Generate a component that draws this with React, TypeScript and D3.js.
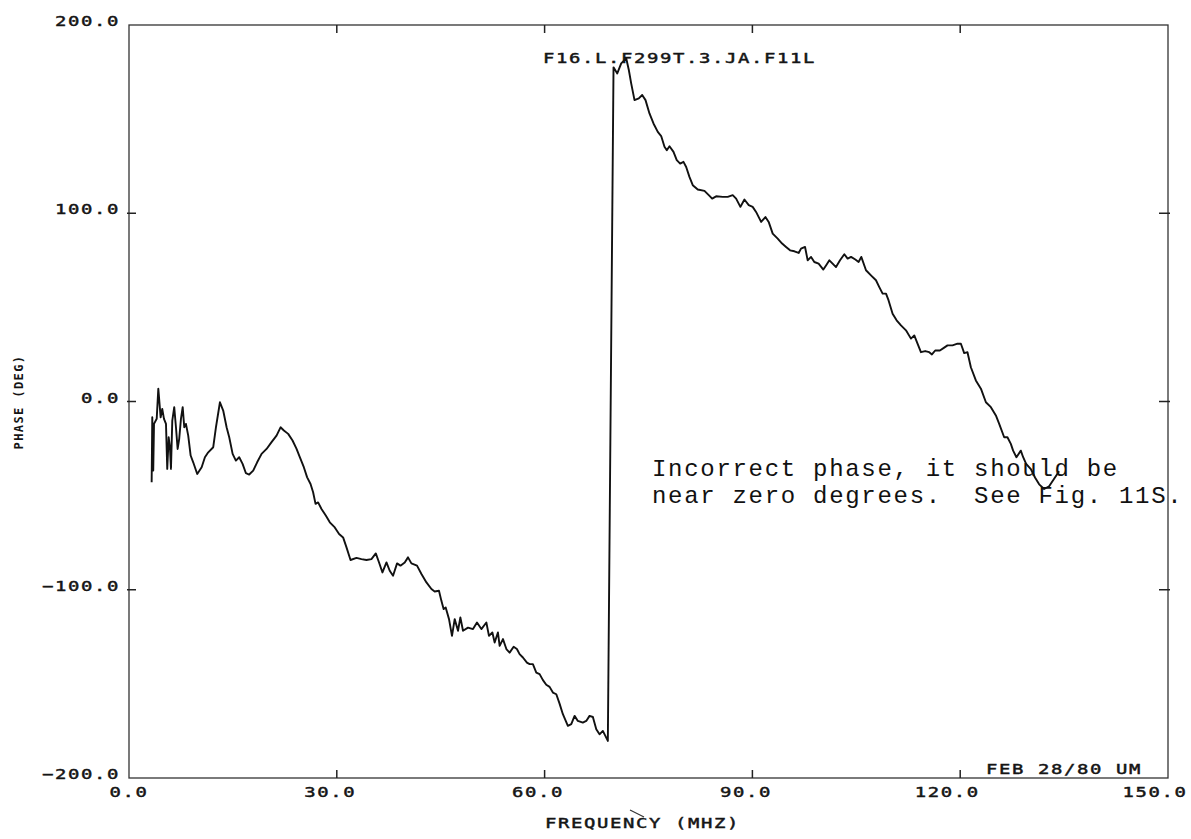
import * as d3 from "d3";

const freqMHz = [
  3.27, 3.36, 3.5, 3.61, 4.0, 4.23, 4.57, 4.8, 5.05, 5.34, 5.52, 5.73, 5.91, 6.06, 6.25, 6.53, 6.78, 7.02, 7.25, 7.5,
  7.75, 7.98, 8.22, 8.55, 8.9, 9.27, 9.85, 10.49, 10.96, 11.44, 12.16, 12.55, 13.13, 13.6, 14.09, 14.47, 14.96, 15.43,
  15.91, 16.4, 16.88, 17.35, 17.93, 18.5, 19.14, 19.86, 20.58, 21.3, 21.88, 22.36, 22.98, 23.61, 24.19, 24.66, 25.24,
  25.72, 26.21, 26.58, 26.93, 27.3, 27.79, 28.41, 28.99, 29.71, 30.33, 30.91, 31.4, 31.98, 32.84, 33.56, 34.28, 35.0,
  35.63, 36.1, 36.59, 37.17, 37.64, 38.12, 38.7, 39.19, 39.81, 40.28, 40.77, 41.58, 42.22, 42.94, 43.66, 44.13, 44.75,
  45.1, 45.43, 45.72, 46.2, 46.63, 47.02, 47.5, 47.84, 48.22, 48.94, 49.66, 50.24, 50.87, 51.59, 51.97, 52.46, 52.79,
  53.26, 53.51, 53.99, 54.48, 54.95, 55.53, 56.0, 56.39, 56.87, 57.45, 57.84, 58.31, 58.8, 59.28, 59.76, 60.24, 60.72,
  61.2, 61.69, 62.16, 62.64, 63.36, 63.85, 64.33, 64.8, 65.52, 66.01, 66.49, 66.97, 67.46, 67.93, 68.41, 69.13,
  69.95, 70.49, 71.06, 71.78, 72.16, 72.5, 72.98, 73.6, 74.09, 74.57, 75.14, 75.72, 76.34, 76.83, 77.31, 77.64, 78.03,
  78.61, 79.08, 79.57, 80.05, 80.44, 80.91, 81.39, 82.11, 83.08, 83.7, 84.19, 84.76, 85.72, 86.44, 87.16, 87.65, 88.27,
  88.85, 89.47, 90.04, 90.53, 91.26, 91.88, 92.35, 92.93, 93.65, 94.29, 94.86, 95.44, 96.06, 96.68, 97.02, 97.6, 97.98,
  98.47, 98.94, 99.56, 100.24, 100.63, 101.11, 101.58, 102.07, 102.65, 103.27, 103.75, 104.24, 104.86, 105.33, 105.72,
  106.4, 107.12, 107.84, 108.32, 108.8, 109.29, 109.66, 110.24, 110.82, 111.45, 112.17, 112.89, 113.37, 113.84, 114.33,
  114.95, 115.53, 115.92, 116.39, 117.07, 117.69, 118.17, 118.89, 119.61, 120.1, 120.58, 121.05, 121.54, 122.26, 122.99,
  123.71, 124.43, 125.15, 125.63, 126.35, 126.82, 127.31, 127.64, 128.12, 128.75, 129.09, 129.52, 130.23, 130.82,
  131.4, 132.12, 132.84, 133.56, 134.28,
];
const phaseDeg = [
  -42.9, -8.4, -36.7, -11.9, -9.2, 6.8, -8.4, -3.9, -9.2, -11.9, -35.8, -19.0, -24.3, -35.8, -10.1, -3.0, -13.7, -25.2,
  -19.8, -9.2, -3.0, -13.7, -11.9, -18.1, -28.7, -32.3, -38.5, -34.9, -29.6, -27.0, -24.3, -13.7, -0.4, -4.8, -13.7,
  -19.0, -27.8, -31.4, -29.6, -33.1, -38.1, -38.8, -36.7, -32.3, -27.8, -25.2, -21.6, -18.1, -13.7, -15.4, -17.2, -20.7,
  -25.2, -29.6, -34.9, -40.3, -43.8, -48.2, -54.4, -53.6, -57.1, -60.6, -64.2, -66.9, -70.4, -72.2, -77.5, -84.2, -83.1,
  -83.7, -84.2, -83.7, -80.7, -85.5, -90.8, -85.5, -89.9, -92.6, -86.0, -87.2, -85.5, -82.8, -86.0, -87.2, -91.6, -96.1,
  -99.6, -100.9, -100.5, -105.9, -110.3, -109.4, -115.6, -124.5, -115.6, -121.8, -114.7, -121.8, -120.1, -120.9, -117.4,
  -120.9, -117.4, -124.5, -122.7, -128.0, -122.7, -129.8, -126.2, -131.5, -133.4, -130.3, -131.5, -134.2, -136.0,
  -138.7, -139.5, -139.5, -144.0, -144.8, -148.0, -150.5, -151.6, -154.6, -155.5, -160.5, -166.1, -172.3, -171.4,
  -167.0, -169.7, -170.6, -169.7, -167.0, -167.6, -174.1, -176.8, -175.0, -180.3,
  177.5, 174.3, 179.6, 182.3, 176.1, 169.0, 160.1, 161.0, 162.8, 160.1, 153.0, 147.7, 143.2, 141.0, 135.3, 133.5, 135.6,
  132.6, 128.2, 126.4, 127.3, 124.6, 119.3, 114.9, 112.6, 111.9, 109.6, 107.8, 109.0, 108.7, 108.7, 109.6, 107.8, 103.4,
  107.3, 104.3, 103.4, 100.7, 95.4, 98.0, 95.4, 89.2, 86.5, 83.9, 82.1, 80.3, 79.8, 78.9, 81.2, 82.1, 75.0, 76.8, 74.1,
  73.2, 70.1, 72.3, 75.0, 73.2, 71.4, 75.0, 78.2, 75.9, 76.8, 75.4, 74.1, 76.8, 69.7, 67.0, 64.4, 60.8, 57.3, 57.3, 53.7,
  46.6, 43.1, 40.4, 37.8, 33.4, 35.1, 30.7, 26.2, 26.8, 26.2, 25.0, 27.1, 27.1, 28.6, 29.8, 29.8, 30.7, 30.7, 25.7, 26.2,
  18.2, 11.2, 6.8, -0.4, -3.0, -7.4, -11.9, -19.0, -19.0, -22.5, -26.1, -29.6, -26.1, -29.6, -33.1, -36.1, -40.5, -44.0,
  -46.5, -45.0, -41.0, -37.0,
];

const xTicks = [0, 30, 60, 90, 120, 150];
const yTicks = [-200, -100, 0, 100, 200];
const plotTitle = "F16.L.F299T.3.JA.F11L";
const dateStamp = "FEB 28/80 UM";
const xTitle = "FREQUENCY (MHZ)";
const yTitle = "PHASE (DEG)";
const noteLines = ["Incorrect phase, it should be", "near zero degrees.  See Fig. 11S."];

const W = 1191;
const H = 839;
const left = 129, right = 1168, top = 25, bottom = 778;

// plotter lettering: wide glyphs, fixed 13px pitch
const PITCH = 13;
const PlotterText = ({ x, y, text }: { x: number; y: number; text: string }) => (
  <text
    transform={`translate(${x},${y}) scale(1.35,1)`}
    fontFamily="DejaVu Sans Mono"
    fontSize={14}
    letterSpacing={1.2}
    fill="#151515"
    stroke="#151515"
    strokeWidth={0.45}
    style={{ whiteSpace: "pre" }}
  >
    {text}
  </text>
);

export default function App() {
  const x = d3.scaleLinear().domain([0, 150]).range([left, right]);
  const y = d3.scaleLinear().domain([-200, 200]).range([bottom, top]);

  const pts = freqMHz.map((f, i) => [f, phaseDeg[i]] as [number, number]);
  const line = d3
    .line<[number, number]>()
    .x((d) => x(d[0]))
    .y((d) => y(d[1]));

  const fmt = d3.format(".1f");

  return (
    <svg
      width={W}
      height={H}
      style={{ position: "absolute", left: 0, top: 0, background: "#fff" }}
    >
      {/* frame */}
      <rect x={left} y={top} width={right - left} height={bottom - top} fill="none" stroke="#333" strokeWidth={1.3} />

      {/* ticks on all four sides, pointing inward */}
      {xTicks.slice(1, -1).map((t) => (
        <g key={"xt" + t} stroke="#222" strokeWidth={1.5}>
          <line x1={x(t)} x2={x(t)} y1={bottom} y2={bottom - 8} />
          <line x1={x(t)} x2={x(t)} y1={top} y2={top + 8} />
        </g>
      ))}
      {yTicks.slice(1, -1).map((t) => (
        <g key={"yt" + t} stroke="#222" strokeWidth={1.5}>
          <line x1={left - 2} x2={left + 7} y1={y(t)} y2={y(t)} />
          <line x1={right + 2} x2={right - 9} y1={y(t)} y2={y(t)} />
        </g>
      ))}

      {/* y tick labels, right aligned */}
      {yTicks.map((t) => {
        const s = fmt(t);
        return <PlotterText key={"yl" + t} x={118 - s.length * PITCH + 2} y={y(t) + 1} text={s} />;
      })}

      {/* x tick labels, decimal point sits on the tick */}
      {xTicks.map((t) => {
        const s = fmt(t);
        const dot = s.indexOf(".");
        return <PlotterText key={"xl" + t} x={x(t) - (dot + 0.5) * PITCH} y={797} text={s} />;
      })}

      {/* curve */}
      <path d={line(pts) || ""} fill="none" stroke="#111" strokeWidth={1.9} strokeLinejoin="round" />

      <PlotterText x={543} y={63} text={plotTitle} />
      <PlotterText x={986} y={774} text={dateStamp} />
      <PlotterText x={545} y={828} text={xTitle} />
      <path d="M630,810 L644,817" stroke="#333" strokeWidth={1.2} fill="none" />

      <text
        transform="translate(23,402) rotate(-90)"
        textAnchor="middle"
        fontFamily="DejaVu Sans Mono"
        fontWeight="bold"
        fontSize={12}
        letterSpacing={1.4}
        fill="#151515"
        style={{ whiteSpace: "pre" }}
      >
        {yTitle}
      </text>

      {/* typed annotation */}
      {noteLines.map((l, i) => (
        <text
          key={"n" + i}
          x={652}
          y={476 + i * 27}
          fontFamily="Liberation Mono"
          fontSize={24}
          letterSpacing={1.7}
          fill="#111"
          style={{ whiteSpace: "pre" }}
        >
          {l}
        </text>
      ))}
    </svg>
  );
}
